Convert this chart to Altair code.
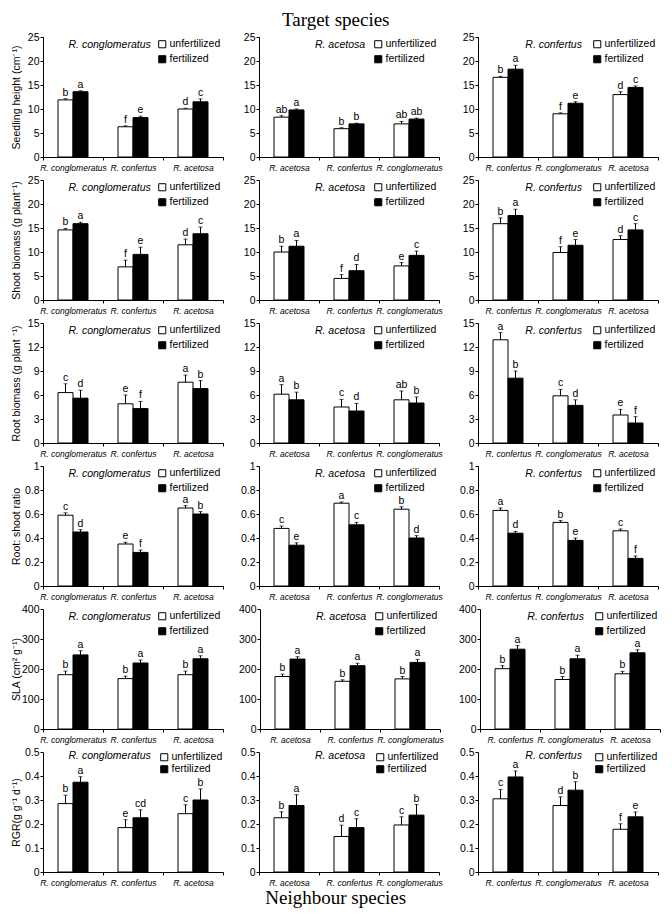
import altair as alt
import pandas as pd

targets = ["R. conglomeratus", "R. acetosa", "R. confertus"]
neighbours = [
    ["R. conglomeratus", "R. confertus", "R. acetosa"],
    ["R. acetosa", "R. confertus", "R. conglomeratus"],
    ["R. confertus", "R. conglomeratus", "R. acetosa"],
]
treatments = ["unfertilized", "fertilized"]
traits = ["Seedling height (cm⁻¹)", "Shoot biomass (g plant⁻¹)", "Root biomass (g plant ⁻¹)",
          "Root: shoot ratio", "SLA (cm² g⁻¹)", "RGR(g g⁻¹ d⁻¹)"]
y_max = [25, 25, 15, 1, 400, 0.5]
y_ticks = [[0, 5, 10, 15, 20, 25], [0, 5, 10, 15, 20, 25], [0, 3, 6, 9, 12, 15],
           [0, 0.2, 0.4, 0.6, 0.8, 1], [0, 100, 200, 300, 400], [0, 0.1, 0.2, 0.3, 0.4, 0.5]]

# values per target (column) in that target's neighbour order
height_unf = [[11.9, 6.3, 10.0], [8.3, 5.9, 6.9], [16.6, 9.0, 13.0]]
height_unf_se = [[0.25, 0.2, 0.15], [0.3, 0.2, 0.5], [0.2, 0.2, 0.6]]
height_fert = [[13.6, 8.2, 11.5], [9.8, 6.9, 7.9], [18.3, 11.2, 14.5]]
height_fert_se = [[0.2, 0.3, 0.6], [0.2, 0.15, 0.2], [0.8, 0.3, 0.3]]
height_unf_sig = [["b", "f", "d"], ["ab", "b", "ab"], ["b", "f", "d"]]
height_fert_sig = [["a", "e", "c"], ["a", "b", "ab"], ["a", "e", "c"]]

shoot_unf = [[14.6, 6.9, 11.5], [10.0, 4.5, 7.1], [15.9, 9.9, 12.6]]
shoot_unf_se = [[0.3, 1.4, 1.2], [1.2, 0.8, 0.7], [1.2, 1.2, 0.8]]
shoot_fert = [[15.9, 9.5, 13.8], [11.2, 6.1, 9.3], [17.6, 11.4, 14.6]]
shoot_fert_se = [[0.3, 1.5, 1.4], [1.2, 1.3, 0.9], [1.3, 1.2, 1.3]]
shoot_unf_sig = [["b", "f", "d"], ["b", "f", "e"], ["b", "f", "d"]]
shoot_fert_sig = [["a", "e", "c"], ["a", "d", "c"], ["a", "e", "c"]]

root_unf = [[6.3, 4.9, 7.6], [6.1, 4.5, 5.4], [12.9, 5.9, 3.5]]
root_unf_se = [[1.1, 1.1, 0.9], [1.2, 0.95, 1.1], [0.9, 0.8, 0.7]]
root_fert = [[5.6, 4.3, 6.8], [5.4, 4.0, 5.0], [8.1, 4.7, 2.5]]
root_fert_se = [[1.0, 0.9, 1.0], [0.95, 0.95, 0.75], [0.9, 0.7, 0.8]]
root_unf_sig = [["c", "e", "a"], ["a", "c", "ab"], ["a", "c", "e"]]
root_fert_sig = [["d", "f", "b"], ["b", "d", "b"], ["b", "d", "f"]]

ratio_unf = [[0.59, 0.35, 0.65], [0.48, 0.69, 0.64], [0.63, 0.53, 0.46]]
ratio_unf_se = [[0.02, 0.015, 0.02], [0.02, 0.01, 0.02], [0.02, 0.015, 0.015]]
ratio_fert = [[0.45, 0.28, 0.60], [0.34, 0.51, 0.40], [0.44, 0.38, 0.23]]
ratio_fert_se = [[0.02, 0.02, 0.02], [0.02, 0.02, 0.02], [0.015, 0.02, 0.02]]
ratio_unf_sig = [["c", "e", "a"], ["c", "a", "b"], ["a", "b", "c"]]
ratio_fert_sig = [["d", "f", "b"], ["e", "c", "d"], ["d", "e", "f"]]

sla_unf = [[181, 168, 181], [175, 159, 167], [201, 165, 184]]
sla_unf_se = [[12, 8, 12], [8, 5, 8], [10, 10, 8]]
sla_fert = [[247, 220, 234], [233, 211, 222], [266, 234, 254]]
sla_fert_se = [[14, 10, 10], [8, 8, 10], [12, 12, 10]]
sla_unf_sig = [["b", "b", "b"], ["b", "b", "b"], ["b", "b", "b"]]
sla_fert_sig = [["a", "a", "a"], ["a", "a", "a"], ["a", "a", "a"]]

rgr_unf = [[0.285, 0.185, 0.243], [0.226, 0.148, 0.196], [0.305, 0.277, 0.178]]
rgr_unf_se = [[0.035, 0.033, 0.037], [0.025, 0.047, 0.034], [0.039, 0.036, 0.023]]
rgr_fert = [[0.374, 0.226, 0.300], [0.277, 0.185, 0.237], [0.396, 0.341, 0.230]]
rgr_fert_se = [[0.023, 0.033, 0.046], [0.045, 0.037, 0.044], [0.025, 0.035, 0.02]]
rgr_unf_sig = [["b", "e", "c"], ["b", "d", "c"], ["c", "d", "f"]]
rgr_fert_sig = [["a", "cd", "b"], ["a", "c", "b"], ["a", "b", "e"]]

trait_data = [
    (height_unf, height_unf_se, height_unf_sig, height_fert, height_fert_se, height_fert_sig),
    (shoot_unf, shoot_unf_se, shoot_unf_sig, shoot_fert, shoot_fert_se, shoot_fert_sig),
    (root_unf, root_unf_se, root_unf_sig, root_fert, root_fert_se, root_fert_sig),
    (ratio_unf, ratio_unf_se, ratio_unf_sig, ratio_fert, ratio_fert_se, ratio_fert_sig),
    (sla_unf, sla_unf_se, sla_unf_sig, sla_fert, sla_fert_se, sla_fert_sig),
    (rgr_unf, rgr_unf_se, rgr_unf_sig, rgr_fert, rgr_fert_se, rgr_fert_sig),
]

W, H = 180, 120
title_frac = [0.37, 0.45, 0.42]
title_y = [8, 8, 8, 8, 8, 4]
legend_offset = [2, 2, 2, 2, 2, 0]
legend_rowpad = [3, 3, 3, 3, 3, 0]
FONT = "Liberation Sans"


def panel(i, j):
    u, use, usig, f, fse, fsig = trait_data[i]
    rows = []
    for k, nb in enumerate(neighbours[j]):
        rows.append(dict(neighbour=nb, treatment="unfertilized", value=u[j][k],
                         top=u[j][k] + use[j][k], sig=usig[j][k]))
        rows.append(dict(neighbour=nb, treatment="fertilized", value=f[j][k],
                         top=f[j][k] + fse[j][k], sig=fsig[j][k]))
    df = pd.DataFrame(rows)
    base = alt.Chart(df)

    x = alt.X("neighbour:N", sort=neighbours[j],
              scale=alt.Scale(paddingInner=0, paddingOuter=0),
              axis=alt.Axis(title=None, labelAngle=0, tickBand="extent", labelFontStyle="italic",
                            labelFontSize=8.5, labelOverlap=False, labelPadding=3, tickSize=3,
                            labelLimit=200))
    xo = alt.XOffset("treatment:N", sort=treatments,
                     scale=alt.Scale(paddingOuter=1, paddingInner=0))
    yaxis = alt.Axis(values=y_ticks[i], labelExpr="'' + datum.value",
                     title=traits[i] if j == 0 else None,
                     tickSize=3, labelPadding=1, labelFontSize=10.5, titleFontSize=10.5,
                     titleFontWeight="normal", titlePadding=1, minExtent=21, maxExtent=21)
    yscale = alt.Scale(domain=[0, y_max[i]], nice=False)

    bars = base.mark_bar(stroke="black", strokeWidth=1).encode(
        x=x, xOffset=xo,
        y=alt.Y("value:Q", scale=yscale, axis=yaxis),
        color=alt.Color("treatment:N", sort=treatments,
                        scale=alt.Scale(domain=treatments, range=["white", "black"]),
                        legend=alt.Legend(title=None, orient="top-right", offset=legend_offset[i],
                                          symbolType="square", symbolSize=50,
                                          symbolStrokeColor="black", symbolStrokeWidth=1,
                                          labelFontSize=10.5, rowPadding=legend_rowpad[i],
                                          padding=0, labelOffset=2, labelLimit=200)),
    )
    rules = base.mark_rule(color="black", strokeWidth=1).encode(
        x=x, xOffset=xo, y=alt.Y("value:Q", scale=yscale, axis=yaxis), y2="top:Q")
    caps = base.mark_tick(color="black", size=4, thickness=1).encode(
        x=x, xOffset=xo, y=alt.Y("top:Q", scale=yscale, axis=yaxis))
    sig = base.mark_text(dy=-6, fontSize=10.5, color="black", font=FONT).encode(
        x=x, xOffset=xo, y=alt.Y("top:Q", scale=yscale, axis=yaxis), text="sig:N")
    ttl = alt.Chart(pd.DataFrame({"t": [targets[j]]})).mark_text(
        fontStyle="italic", fontSize=10.5, color="black", font=FONT).encode(
        x=alt.value(W * title_frac[j]), y=alt.value(title_y[i]), text="t:N")
    return alt.layer(bars, rules, caps, sig, ttl).properties(width=W, height=H)


rows = []
for i in range(6):
    r = alt.hconcat(*[panel(i, j) for j in range(3)], spacing=14)
    r = r.resolve_scale(color="independent").resolve_legend(color="independent")
    rows.append(r)

inner = alt.vconcat(*rows, spacing=3).resolve_scale(color="independent").resolve_legend(
    color="independent").properties(
    title=alt.TitleParams("Target species", font="Liberation Serif", fontSize=19,
                          fontWeight="normal", anchor="middle", offset=2, color="black"))

chart = alt.vconcat(inner).resolve_scale(color="independent").resolve_legend(
    color="independent").properties(
    padding={"left": 2, "top": 3, "right": 2, "bottom": 2},
    title=alt.TitleParams("Neighbour species", orient="bottom", font="Liberation Serif",
                          fontSize=19, fontWeight="normal", anchor="middle", offset=2,
                          color="black")
).configure_view(stroke=None).configure_axis(
    grid=False, domainColor="black", tickColor="black", labelColor="black",
    titleColor="black", labelFont=FONT, titleFont=FONT
).configure_legend(labelFont=FONT, labelColor="black")

chart.save("out.html", embed_options={"renderer": "svg", "actions": False})
